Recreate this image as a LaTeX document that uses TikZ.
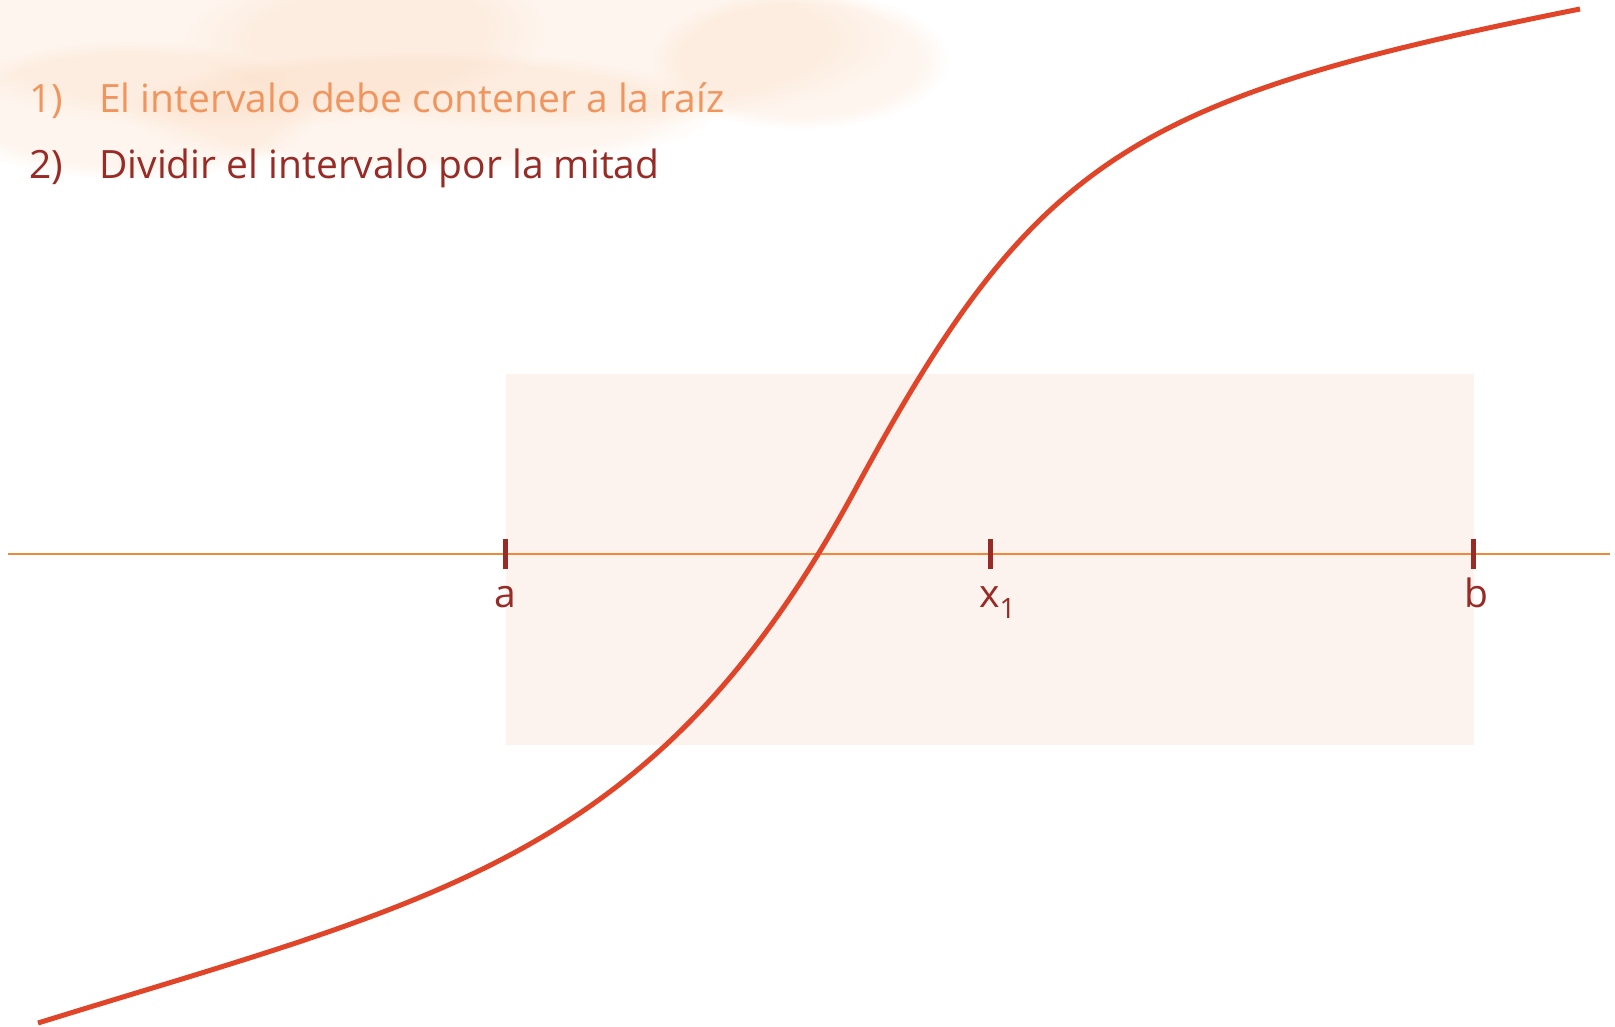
\documentclass[tikz,border=0pt]{standalone}
\usepackage{fontspec}
\setmainfont{Open Sans}
\usetikzlibrary{fadings}
\definecolor{txtorange}{HTML}{F0955E}
\definecolor{darkred}{HTML}{982B25}
\definecolor{axisorange}{HTML}{F0883A}
\definecolor{curvered}{HTML}{E04529}
\definecolor{boxfill}{HTML}{FCF2EE}
\definecolor{cloud}{HTML}{F9C9A3}
\tikzset{
  lbl/.style={font=\fontsize{39}{42}\selectfont, text=darkred, inner sep=0pt},
  tickmark/.style={draw=darkred, line width=5pt},
  blob/.style={fill=cloud, fill opacity=0.18, path fading=circle with fuzzy edge 20 percent}
}
\begin{document}
\begin{tikzpicture}[x=1pt,y=-1pt]
\useasboundingbox (0,0) rectangle (1615,1026);
% background cloud
\fill[blob] (230,30) ellipse [x radius=320, y radius=100];
\fill[blob] (540,40) ellipse [x radius=360, y radius=90];
\fill[blob] (130,110) ellipse [x radius=190, y radius=70];
\fill[blob] (420,110) ellipse [x radius=300, y radius=60];
\fill[blob] (800,60) ellipse [x radius=150, y radius=70];
% shaded interval box
\fill[boxfill] (506,374) rectangle (1474,745);
% axis
\draw[axisorange, line width=2pt] (8,554) -- (1610,554);
% ticks
\coordinate (ta) at (505,554);
\coordinate (tx) at (990,554);
\coordinate (tb) at (1473,554);
\draw[tickmark] ([yshift=-15pt]ta) -- ([yshift=15pt]ta);
\draw[tickmark] ([yshift=-15pt]tx) -- ([yshift=15pt]tx);
\draw[tickmark] ([yshift=-15pt]tb) -- ([yshift=15pt]tb);
% labels
\node[lbl, anchor=base] (la) at (505,607) {a};
\node[lbl, anchor=base] (lb) at (1476,607) {b};
\node[lbl, anchor=base west] (lx) at (979,607) {x\raisebox{-11pt}{\fontsize{28}{30}\selectfont 1}};
% curve
\coordinate (cs) at (38,1023);
\coordinate (cm) at (855,490);
\coordinate (ce) at (1580,9);
\draw[curvered, line width=5pt] (cs) .. controls (438,899) and (655,860) .. (cm)
  .. controls (1035,157) and (1130,99) .. (ce);
% text
\node[lbl, text=txtorange, anchor=base west] (n1) at (29,112) {1)};
\node[lbl, text=txtorange, anchor=base west] (t1) at (99,112) {El intervalo debe contener a la raíz};
\node[lbl, anchor=base west] (n2) at (29,178) {2)};
\node[lbl, anchor=base west] (t2) at (99,178) {Dividir el intervalo por la mitad};
\end{tikzpicture}
\end{document}
